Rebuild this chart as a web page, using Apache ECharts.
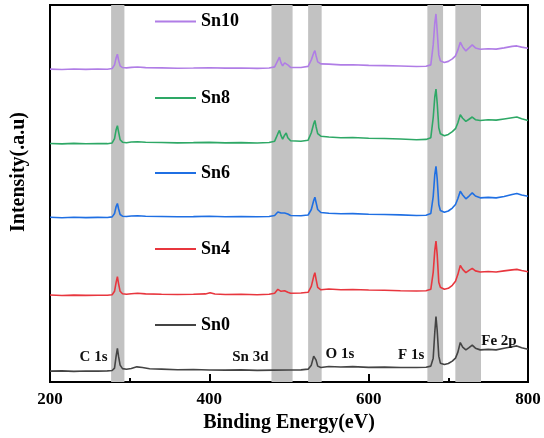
<!DOCTYPE html>
<html>
<head>
<meta charset="utf-8">
<script src="https://cdn.jsdelivr.net/npm/echarts@6/dist/echarts.min.js"></script>
<style>
  html, body { margin: 0; padding: 0; background: #fff; }
  #chart { width: 544px; height: 438px; }
</style>
</head>
<body>
<div id="chart"></div>
<script>
// XPS survey spectra, stacked with vertical offsets: [binding energy (eV), intensity (a.u.)]
const sn0 = [
  [200,11],[215,11.3],[230,10.8],[245,11.2],[260,11],[272,11.3],[278,11.6],[281,14],[283,26],[284.6,33.7],[286,26],[288,17],[291,13.5],[296,12.8],[302,13.6],[309,15.3],[316,14.6],[325,13.4],[340,13],[360,12.4],[380,12.6],[400,12.2],[420,12],[440,12.3],[460,11.8],[480,12],[500,12.2],[515,12.3],[524,13],[528,17],[531,26],[532.5,28],[534,22],[536,16],[540,14.6],[550,15.7],[565,15.2],[580,15.5],[600,14.8],[620,15],[640,14.6],[660,14.7],[672,14.9],[678,16],[681,24],[683,50],[684.5,65.7],[686,52],[688,26],[690,19],[695,17.7],[700,18.6],[705,21],[709,24],[712,30],[715,39.7],[718,35],[722,32.3],[726,34.5],[730,37],[734,34],[740,32.3],[750,32.8],[760,32.3],[770,34],[780,35.5],[786,36.3],[792,34.5],[800,33]
];
const sn4 = [
  [200,87.3],[215,86.8],[230,87.2],[245,86.9],[260,87.1],[272,87],[278,87.6],[281,91],[283,100],[284.6,105.7],[286,99],[288,91],[291,88.5],[296,88],[302,88.6],[310,89],[320,88.4],[340,88],[360,87.8],[380,88],[395,88.4],[401,89.6],[407,88.3],[420,87.8],[440,88],[460,87.6],[475,88],[482,89],[486,93],[488,94.7],[490,91],[492,89.8],[494.5,91.5],[496.5,93],[498.5,90],[502,89],[515,89.3],[524,90],[528,96],[531,106],[532.5,109.7],[534,103],[536,95],[540,92.5],[550,93.3],[565,92.6],[580,92.8],[600,92.3],[620,92],[640,91.6],[660,91.3],[672,91.5],[678,93],[681,110],[683,132],[684.5,141.3],[686,128],[688,100],[690,95],[695,93],[700,94],[705,97],[709,101],[712,108],[715,117],[718,113],[722,109.7],[726,112],[730,114],[734,111.5],[740,110.3],[750,110.8],[760,110.3],[770,111.5],[780,112.5],[786,113],[792,111.8],[800,110.7]
];
const sn6 = [
  [200,165.2],[215,164.8],[230,165.3],[245,164.9],[260,165.1],[272,165],[278,165.6],[281,169],[283,176],[284.6,179],[286,174],[288,168],[291,166.3],[296,166],[302,166.5],[310,166.8],[320,166.2],[340,166],[360,165.7],[380,165.9],[400,166.2],[420,165.8],[440,166],[460,165.7],[475,166],[482,167],[486,170.5],[488,172.3],[490,169.5],[492,167.8],[494.5,169.5],[496.5,171],[498.5,168.5],[502,167],[515,166.8],[524,167.5],[528,173],[531,182],[532.5,185.3],[534,180],[536,173],[540,170],[550,169.3],[565,168.7],[580,168.9],[600,168.3],[620,168],[640,167.6],[660,167],[672,167.3],[678,169],[681,186],[683,208],[684.5,216.3],[686,204],[688,178],[690,172],[695,170.3],[700,171.5],[705,174.5],[709,178],[712,184],[715,191.3],[718,187.5],[722,183.7],[726,186.5],[730,189.7],[734,186.5],[740,184.7],[750,185.2],[760,184.7],[770,186],[780,188],[786,189],[792,187.5],[800,186.3]
];
const sn8 = [
  [200,239.2],[215,238.8],[230,239.3],[245,238.9],[260,239.1],[272,239],[278,239.7],[281,244],[283,253],[284.6,257],[286,251],[288,243],[291,240.5],[296,240],[302,240.6],[310,241],[320,240.4],[340,240.2],[360,239.8],[380,240],[400,240.3],[420,239.8],[440,240],[460,239.7],[475,240.2],[482,241.5],[486,249],[488,252.3],[490,247],[492,243.5],[494.5,247.5],[496.5,249.7],[498.5,245],[502,242],[515,241.5],[524,242.5],[528,250],[531,259],[532.5,262.3],[534,256],[536,249],[540,246.5],[550,245.7],[565,245],[580,245.2],[600,244.5],[620,244.2],[640,243.7],[660,243],[672,243.3],[678,245],[681,265],[683,286],[684.5,293.7],[686,280],[688,255],[690,249],[695,247],[700,248.3],[705,251],[709,254],[712,260],[715,268],[718,264.5],[722,261.3],[726,263.5],[730,265.7],[734,263],[740,262.3],[750,263],[760,262.6],[770,263.8],[780,265],[786,265.7],[792,264],[800,262.3]
];
const sn10 = [
  [200,313.7],[215,313.4],[230,313.9],[245,313.5],[260,313.8],[272,313.6],[278,314.3],[281,318],[283,325],[284.6,328.7],[286,323],[288,317],[291,315.3],[296,315],[302,315.5],[310,315.8],[320,315.2],[340,315],[360,314.6],[380,314.8],[400,315.1],[420,314.7],[440,314.9],[460,314.5],[475,314.8],[482,316],[486,322.5],[488,325.7],[490,320],[492,317],[494.5,320],[496.5,322],[498.5,318],[502,315.5],[515,315.4],[524,316.5],[528,323],[531,330],[532.5,332.3],[534,327],[536,321],[540,319],[550,318.7],[565,318],[580,318.1],[600,317.5],[620,317.2],[640,316.8],[660,316.3],[672,316.6],[678,318],[681,338],[683,360],[684.5,369],[686,352],[688,328],[690,322],[695,320.3],[700,321.5],[705,324],[709,327],[712,333],[715,340.7],[718,336],[722,332],[726,335],[730,338],[734,335],[740,333.7],[750,334.2],[760,333.8],[770,335],[780,336.5],[786,337],[792,335.8],[800,334.7]
];

const seriesNames = ['Sn0', 'Sn4', 'Sn6', 'Sn8', 'Sn10'];
const seriesData = [sn0, sn4, sn6, sn8, sn10];
const seriesColors = ['#444444', '#e8363e', '#1f6fe3', '#2ea866', '#b07de6'];

// Core-level regions (eV) shaded in grey
const bands = [[276.7, 293.4], [478, 504.5], [524, 541], [673.7, 693.4], [708.8, 741]];
// Peak labels and where they sit (eV, intensity)
const peakLabels = ['C 1s', 'Sn 3d', 'O 1s', 'F 1s', 'Fe 2p'];
const peakLabelAt = [[254.7, 25], [451.5, 25], [563.9, 28], [653.3, 27], [763.6, 41]];

const xTicks = [200, 400, 600, 800];

const serif = '"Liberation Serif", "Times New Roman", serif';
const chart = echarts.init(document.getElementById('chart'), null, { renderer: 'canvas' });

// One legend block per sample, stacked next to its own trace; icon is a thin line stroke
const legendTops = [325, 249, 173, 98, 21.5];
const legends = seriesNames.map((n, i) => ({
  data: [n],
  left: 155,
  top: legendTops[i] - 10,
  padding: 0,
  itemWidth: 41,
  itemHeight: 2,
  icon: 'path://M0,0H41V2H0Z',
  textStyle: { fontFamily: serif, fontWeight: 'bold', fontSize: 18, color: '#000', lineHeight: 20 },
  selectedMode: false
}));

const series = seriesNames.map((n, i) => ({
  name: n,
  type: 'line',
  data: seriesData[i],
  symbol: 'none',
  smooth: false,
  lineStyle: { color: seriesColors[i], width: 1.6 },
  itemStyle: { color: seriesColors[i] },
  z: 3,
  silent: true
}));

series[0].markArea = {
  silent: true,
  itemStyle: { color: '#c2c2c2' },
  data: bands.map(b => [{ xAxis: b[0] }, { xAxis: b[1] }])
};
series[0].markPoint = {
  silent: true,
  symbol: 'rect',
  symbolSize: 1,
  itemStyle: { color: 'rgba(0,0,0,0)' },
  label: {
    show: true,
    position: 'inside',
    fontFamily: serif,
    fontWeight: 'bold',
    fontSize: 15,
    color: '#111',
    formatter: p => p.name
  },
  data: peakLabels.map((t, i) => ({ name: t, coord: peakLabelAt[i] }))
};

chart.setOption({
  animation: false,
  backgroundColor: '#fff',
  grid: {
    left: 50, right: 16, top: 5, bottom: 55,
    show: true, borderColor: '#000', borderWidth: 2, backgroundColor: 'transparent'
  },
  legend: legends,
  xAxis: {
    type: 'value',
    min: 200, max: 800, interval: 200,
    name: 'Binding Energy(eV)',
    nameLocation: 'middle',
    nameGap: 26,
    nameTextStyle: { fontFamily: serif, fontWeight: 'bold', fontSize: 20, color: '#000' },
    axisLine: { show: true, onZero: false, lineStyle: { color: '#000', width: 2 } },
    axisTick: { show: true, inside: true, length: 8, lineStyle: { color: '#000', width: 2 } },
    minorTick: { show: true, splitNumber: 2, length: 4, lineStyle: { color: '#000', width: 2 } },
    splitLine: { show: false },
    axisLabel: {
      margin: 9,
      fontFamily: serif, fontWeight: 'bold', fontSize: 17, color: '#000',
      formatter: v => (xTicks.indexOf(v) >= 0 ? String(v) : '')
    }
  },
  yAxis: {
    type: 'value',
    min: 0, max: 378,
    axisLine: { show: true, lineStyle: { color: '#000', width: 2 } },
    axisTick: { show: false },
    axisLabel: { show: false },
    splitLine: { show: false }
  },
  graphic: [{
    type: 'text',
    x: 19, y: 172,
    rotation: Math.PI / 2,
    style: {
      text: 'Intensity(.a.u)',
      fontFamily: serif, fontWeight: 'bold', fontSize: 20, fill: '#000',
      align: 'center', verticalAlign: 'middle'
    }
  }],
  series: series
});
</script>
</body>
</html>
